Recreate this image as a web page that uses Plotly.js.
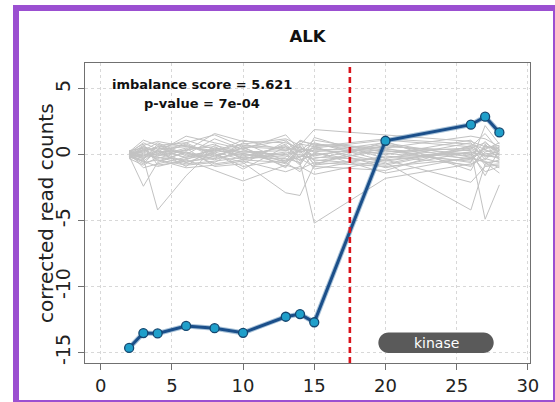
<!DOCTYPE html>
<html>
<head>
<meta charset="utf-8">
<script src="https://cdn.plot.ly/plotly-3.0.1.min.js"></script>
<style>
  html, body { margin: 0; padding: 0; background: #ffffff; overflow: hidden; }
  #wrap { position: relative; width: 555px; height: 402px; overflow: hidden; }
  #chart { position: absolute; left: 0; top: 0; width: 555px; height: 402px; }
  #frame { position: absolute; left: 13px; top: 5px; width: 546px; height: 401px;
           box-sizing: border-box; border: 6px solid #9b4fd1; pointer-events: none; }
</style>
</head>
<body>
<div id="wrap">
  <div id="chart"></div>
  <div id="frame"></div>
</div>
<script>
// ---- data ----
const exonPositions = [2, 3, 4, 6, 8, 10, 13, 14, 15, 20, 26, 27, 28];
const alkCounts = [-14.67, -13.54, -13.57, -13.0, -13.17, -13.52, -12.3, -12.1, -12.72, 1.05, 2.27, 2.88, 1.68];

const bg01 = [0.1, 0.9, 0.4, 0.6, 0.3, 0.8, 1.2, 0.7, 1.9, 1.5, 1.0, 0.6, 0.5];
const bg02 = [-0.1, -2.4, -0.6, 0.2, -0.3, 0.1, -0.5, -0.2, 0.4, 0.3, -0.6, 2.2, 0.8];
const bg03 = [0.0, -0.3, -4.2, -1.6, 0.5, 0.2, 0.3, 0.6, -0.2, -0.4, 0.2, -0.1, 0.3];
const bg04 = [0.2, 1.1, 0.7, 0.9, 1.5, 0.6, 0.4, 1.0, 0.8, 0.5, 1.4, 1.2, 0.6];
const bg05 = [-0.2, -0.5, -0.9, -0.4, -1.2, -2.0, -0.8, -1.1, -0.6, -0.9, -0.3, -0.5, -1.0];
const bg06 = [0.3, 0.5, 0.2, 1.4, 0.9, 0.4, 1.5, 0.3, 1.1, 0.2, 0.5, 0.9, 0.2];
const bg07 = [0.1, 0.2, 0.6, -0.3, 0.0, -0.6, -2.9, -3.1, -0.8, -0.2, 0.1, 0.4, -0.2];
const bg08 = [-0.3, -0.8, -0.2, -0.7, -0.5, -0.2, -0.3, -0.6, -5.2, -1.8, -0.7, -0.3, -0.6];
const bg09 = [0.0, 0.4, -0.1, 0.3, 1.6, 1.0, 0.9, 0.5, 0.2, 0.9, -0.2, 0.3, 0.1];
const bg10 = [0.2, -0.1, 0.3, -0.2, 0.4, -0.1, 0.6, 0.2, 0.5, -0.6, -4.2, -0.7, -0.4];
const bg11 = [-0.1, 0.3, 0.5, 0.1, -0.4, 0.3, -0.1, -0.4, 0.0, 0.6, 0.3, -4.9, -2.3];
const bg12 = [0.1, -0.6, -0.4, -1.0, -0.8, -0.5, -1.3, -0.9, -1.5, -0.4, -2.1, -0.9, -0.8];
const bg13 = [0.0, 0.7, 1.0, 0.6, 0.2, 1.1, 0.3, 0.8, 0.6, 1.2, 0.8, 0.4, 0.9];
const bg14 = [-0.2, 0.1, -0.3, 0.4, 0.6, -0.3, 0.2, 0.0, -0.4, -0.8, 0.5, 0.0, -0.3];
const bg15 = [0.3, -0.2, 0.1, -0.6, -0.1, 0.5, -0.6, 0.4, 0.3, 0.1, -0.5, 0.6, 0.4];
const bg16 = [0.0, 0.5, -0.5, 0.2, -0.7, -0.4, 0.8, -0.3, -0.9, -1.2, 0.7, -0.2, 0.1];
const bg17 = [-0.1, -0.4, 0.8, -0.1, 0.3, 0.0, -0.2, 1.1, 0.7, 0.4, -0.1, 1.0, -0.1];
const bg18 = [0.2, 0.0, 0.0, 0.8, -0.2, 0.7, 0.5, -0.7, 1.3, -0.3, 0.9, -0.4, 0.6];
const bg19 = [0.1, -1.0, -0.7, -0.2, 0.1, -0.9, -0.4, -0.1, -0.3, 0.7, 0.0, -1.3, -0.9];
const bg20 = [-0.2, 0.6, 0.3, -0.9, 0.7, 0.2, 0.0, 0.3, -1.1, -0.1, -0.8, 0.2, 0.5];
const bg21 = [0.0, -0.2, -0.1, 0.5, -0.9, -0.7, 1.0, 0.1, 0.9, -0.5, 0.4, -0.6, -0.5];
const bg22 = [0.1, 0.3, 0.9, 0.0, 1.2, 0.4, -0.9, 0.6, -0.1, 0.8, -0.4, 0.7, 0.2];
const bg23 = [-0.1, -0.7, 0.4, 1.1, 0.4, -0.2, 0.7, -0.5, 0.1, -0.7, 0.6, -0.8, -0.7];
const bg24 = [0.2, 0.8, -0.8, -0.5, -0.3, 0.9, -0.5, 0.9, -0.5, 0.3, -0.3, 0.5, 0.7];
const bg25 = [0.0, -0.1, 0.2, 0.3, 0.8, -0.4, 0.1, -0.8, 0.8, 0.0, 1.1, -0.1, -0.2];
const bg26 = [-0.3, 0.4, -0.4, -0.8, -0.6, 0.6, -1.0, 0.4, -0.7, 0.5, -0.9, 0.1, 0.0];
const bg27 = [0.1, -0.3, 0.6, 0.7, 0.1, -1.1, 0.6, -0.2, 0.6, -1.0, 0.2, -1.6, 0.4];
const bg28 = [0.0, 0.2, -0.2, -0.4, 0.5, 0.1, -0.7, 0.7, -0.8, 1.0, -1.2, 0.8, -0.4];
const bg29 = [0.1, 0.6, 0.1, 0.9, -0.1, 0.5, 1.1, 0.2, 0.5, 1.1, 0.6, 1.6, 0.3];
const bg30 = [-0.1, -0.5, 0.3, -0.6, 0.2, -0.4, -0.6, -1.3, 0.2, -1.4, -0.2, -0.6, -1.4];
const backgroundProfiles = [bg01, bg02, bg03, bg04, bg05, bg06, bg07, bg08, bg09, bg10, bg11, bg12, bg13, bg14, bg15,
                            bg16, bg17, bg18, bg19, bg20, bg21, bg22, bg23, bg24, bg25, bg26, bg27, bg28, bg29, bg30];

const breakpoint = 17.5;
const domainName = 'kinase';
const domainStart = 19.5;
const domainEnd = 27.6;
const domainLow = -15.05;
const domainHigh = -13.5;

const xTicks = [0, 5, 10, 15, 20, 25, 30];
const yTicks = [-15, -10, -5, 0, 5];
const yTitle = 'corrected read counts';
const scoreText = 'imbalance score = 5.621';
const pvalText = 'p-value = 7e-04';
const scoreLabelX = 7.15, scoreLabelY = 5.3, pvalLabelY = 3.9;

// ---- layout geometry ----
const W = 555, H = 402;
const margin = {l: 85, r: 25, t: 63, b: 39, pad: 0};
const xRange = [-1.1, 30.15];
const yRange = [-15.81, 6.95];
const plotW = W - margin.l - margin.r, plotH = H - margin.t - margin.b;
const pxPerX = plotW / (xRange[1] - xRange[0]);
const pxPerY = plotH / (yRange[1] - yRange[0]);

// rounded "pill" path for the domain box, in data coordinates
function pillPath(x0, x1, y0, y1) {
  const ry = (y1 - y0) / 2;
  const rx = ry * pxPerY / pxPerX;
  const ym = (y0 + y1) / 2;
  const k = 0.5523;
  const a = x0 + rx, b = x1 - rx;
  return `M${a},${y0} L${b},${y0} ` +
    `C${b + k*rx},${y0} ${x1},${ym - k*ry} ${x1},${ym} ` +
    `C${x1},${ym + k*ry} ${b + k*rx},${y1} ${b},${y1} ` +
    `L${a},${y1} ` +
    `C${a - k*rx},${y1} ${x0},${ym + k*ry} ${x0},${ym} ` +
    `C${x0},${ym - k*ry} ${a - k*rx},${y0} ${a},${y0} Z`;
}

const FONT = 'DejaVu Sans, Verdana, sans-serif';

const traces = backgroundProfiles.map(v => ({
  x: exonPositions, y: v, type: 'scatter', mode: 'lines',
  line: {color: '#c2c2c2', width: 1}, hoverinfo: 'skip', showlegend: false
}));
traces.push({
  x: exonPositions, y: alkCounts, type: 'scatter', mode: 'lines',
  line: {color: '#3f77a8', width: 5}, opacity: 0.45, hoverinfo: 'skip', showlegend: false
});
traces.push({
  x: exonPositions, y: alkCounts, type: 'scatter', mode: 'lines+markers',
  line: {color: '#1b4f8a', width: 3},
  marker: {size: 9, color: '#1f9fca', line: {color: '#14466f', width: 1.3}},
  showlegend: false
});

const axisCommon = {
  showline: true, mirror: true, linecolor: '#707070', linewidth: 1.4,
  ticks: 'outside', ticklen: 6, tickwidth: 1, tickcolor: '#707070',
  showgrid: true, gridcolor: '#d8d8d8', gridwidth: 1, griddash: 'dot',
  zeroline: false
};

const layout = {
  width: W, height: H, margin: margin,
  paper_bgcolor: '#ffffff', plot_bgcolor: '#ffffff',
  title: {text: '<b>ALK</b>', font: {family: FONT, size: 16.5, color: '#111111'},
          x: 0.5, xref: 'paper', y: 1 - 36 / H, yref: 'container', yanchor: 'middle'},
  xaxis: Object.assign({}, axisCommon, {range: xRange, tickvals: xTicks, ticktext: xTicks.map(String),
    tickfont: {family: FONT, size: 18, color: '#222222'}}),
  yaxis: Object.assign({}, axisCommon, {range: yRange, tickvals: yTicks, ticktext: yTicks.map(String),
    tickangle: -90, tickfont: {family: FONT, size: 19, color: '#222222'}}),
  shapes: [
    {type: 'path', xref: 'x', yref: 'y', path: pillPath(domainStart, domainEnd, domainLow, domainHigh),
     fillcolor: '#5a5a5a', line: {width: 0}, layer: 'above'},
    {type: 'line', xref: 'x', yref: 'paper', x0: breakpoint, x1: breakpoint, y0: 0, y1: 1,
     line: {color: '#d9141b', width: 2.6, dash: '6px,4px'}, layer: 'above'}
  ],
  annotations: [
    {x: -39 / plotW, y: 0.5, xref: 'paper', yref: 'paper', text: yTitle, textangle: -90,
     showarrow: false, xanchor: 'center', yanchor: 'middle',
     font: {family: FONT, size: 20, color: '#222222'}},
    {x: scoreLabelX, y: scoreLabelY, xref: 'x', yref: 'y', text: '<b>' + scoreText + '</b>', showarrow: false,
     font: {family: FONT, size: 13, color: '#111111'}},
    {x: scoreLabelX, y: pvalLabelY, xref: 'x', yref: 'y', text: '<b>' + pvalText + '</b>', showarrow: false,
     font: {family: FONT, size: 13, color: '#111111'}},
    {x: (domainStart + domainEnd) / 2, y: (domainLow + domainHigh) / 2, xref: 'x', yref: 'y',
     text: domainName, showarrow: false, font: {family: FONT, size: 14, color: '#ffffff'}}
  ]
};

Plotly.newPlot('chart', traces, layout, {displayModeBar: false, staticPlot: true});
</script>
</body>
</html>
